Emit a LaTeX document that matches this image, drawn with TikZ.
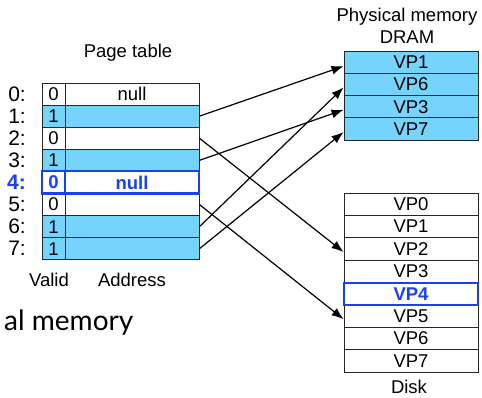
\documentclass[tikz,border=0pt]{standalone}
\usepackage{fontspec}
\setmainfont{Liberation Sans}
\newfontfamily\slidefont{Lato}
\usetikzlibrary{arrows.meta,positioning}
\definecolor{cellblue}{RGB}{117,212,252}
\definecolor{hlblue}{RGB}{24,64,245}
\tikzset{
cell/.style = {draw=black!85, rectangle, inner sep=0pt, line width=0.9pt, minimum height=22.1pt, font=\fontsize{18.5}{20}\selectfont},
valid/.style = {cell, minimum width=23pt},
addr/.style = {cell, minimum width=134pt},
mem/.style = {cell, minimum width=134pt, minimum height=22.35pt},
used/.style = {fill=cellblue},
hl/.style = {draw=hlblue, line width=2.2pt, text=hlblue, font=\fontsize{18.5}{20}\selectfont\bfseries},
rowlabel/.style = {anchor=east, inner sep=0pt, font=\fontsize{21}{23}\selectfont},
caption/.style = {inner sep=0pt, font=\fontsize{18.5}{20}\selectfont},
map/.style = {->, line width=1.2pt},
}
\begin{document}
\begin{tikzpicture}[x=1pt, y=-1pt, >={Latex[length=12pt,width=9pt]}]
\useasboundingbox (0,0) rectangle (482,398);
\node [caption] (pttitle) at (128,53) {Page table};
\foreach \i/\v/\a/\s in {0/0/null/{},1/1/{}/used,2/0/{}/{},3/1/{}/used,5/0/{}/{},6/1/{}/used,7/1/{}/used} {
  \node [valid,\s] (v\i) at (53.5,{94.05+22.1*\i}) {\v};
  \node [addr,\s] (a\i) at (132,{94.05+22.1*\i}) {\a};
  \node [rowlabel] (l\i) at (26,{94.05+22.1*\i}) {\i:};
}
\node [valid,hl] (v4) at (53.5,182.45) {0};
\node [addr,hl] (a4) at (132,182.45) {null};
\node [rowlabel,text=hlblue,font=\fontsize{21}{23}\selectfont\bfseries] (l4) at (26,182.45) {4:};
\node [caption] (validcap) at (49,280) {Valid};
\node [caption] (addrcap) at (132,280) {Address};
\node [caption,align=center,font=\fontsize{18.5}{22}\selectfont] (pmtitle) at (407,26) {Physical memory\\DRAM};
\foreach \i/\n in {0/1,1/6,2/3,3/7}
  \node [mem,used] (p\n) at (411,{62.2+22.3*\i}) {VP\n};
\foreach \i in {0,1,2,3,5,6,7}
  \node [mem] (d\i) at (411,{204.2+22.4*\i}) {VP\i};
\node [mem,hl] (d4) at (411,293.8) {VP4};
\node [caption] (disktitle) at (409,387) {Disk};
\node [anchor=base west, inner sep=0pt, font=\fontsize{28}{30}\slidefont] (vmtitle) at (4,330) {al memory};
\draw [map] (a1.east) -- ([yshift=-4pt]p1.west);
\draw [map] (a2.east) -- ([yshift=-3pt]d2.west);
\draw [map] (a3.east) -- ([yshift=-3pt]p3.west);
\draw [map] (a5.east) -- ([yshift=-3pt]d5.west);
\draw [map] (a6.east) -- ([yshift=-3pt]p6.west);
\draw [map] (a7.east) -- ([yshift=-3pt]p7.west);
\end{tikzpicture}
\end{document}
